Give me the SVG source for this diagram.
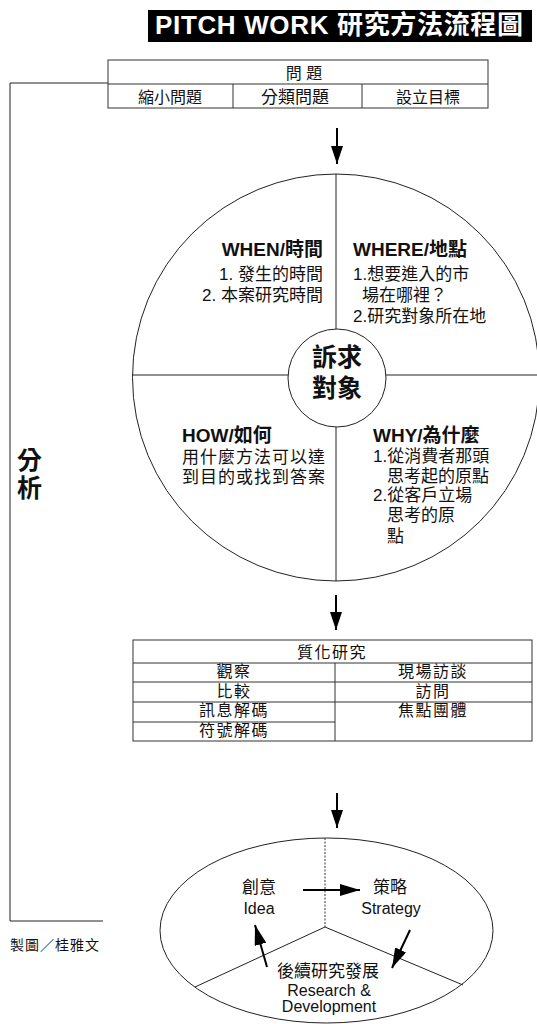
<svg xmlns="http://www.w3.org/2000/svg" width="537" height="1024" viewBox="0 0 537 1024">
<style>
text{font-family:"Liberation Sans","Noto Sans CJK TC",sans-serif;fill:#111}
.t16{font-size:16px}
.t17{font-size:17px}
.tc{font-size:16px;letter-spacing:1.5px}
.h{font-size:19px;font-weight:bold}
.ln{stroke:#222;stroke-width:1;fill:none}
.tb{stroke:#333;stroke-width:1;fill:none}
.arr{stroke:#000;stroke-width:2;fill:none}
.mid{text-anchor:middle}
</style>
<defs>
<marker id="ah" viewBox="0 0 18 12" refX="18" refY="6" markerWidth="18" markerHeight="12" markerUnits="userSpaceOnUse" orient="auto">
<path d="M0,0 L18,6 L0,12 Z" fill="#000"/>
</marker>
<marker id="ah2" viewBox="0 0 20 12" refX="20" refY="6" markerWidth="20" markerHeight="12" markerUnits="userSpaceOnUse" orient="auto">
<path d="M0,0 L20,6 L0,12 Z" fill="#000"/>
</marker>
</defs>

<g id="title">
<rect x="148" y="10" width="384" height="32" fill="#000"/>
<text x="155" y="34" style="font-size:26px;font-weight:bold;fill:#fff" textLength="368" lengthAdjust="spacing">PITCH WORK 研究方法流程圖</text>
</g>

<g id="bracket">
<path class="ln" d="M108,83 H10 V921 H103"/>
<text x="17" y="469" style="font-size:25px;font-weight:bold">分</text>
<text x="17" y="497" style="font-size:25px;font-weight:bold">析</text>
</g>

<g id="problem">
<rect class="tb" x="108" y="60" width="380" height="48"/>
<line class="tb" x1="108" y1="84" x2="488" y2="84"/>
<line class="tb" x1="233" y1="84" x2="233" y2="108"/>
<line class="tb" x1="362" y1="84" x2="362" y2="108"/>
<text class="t16 mid" x="304" y="79">問 題</text>
<text class="t16 mid" x="170" y="103">縮小問題</text>
<text class="t17 mid" x="295" y="103">分類問題</text>
<text class="t16 mid" x="428" y="103">設立目標</text>
</g>

<g id="connectors">
<line class="arr" x1="337" y1="128" x2="337" y2="164" marker-end="url(#ah)"/>
<line class="arr" x1="336" y1="595" x2="336" y2="630" marker-end="url(#ah)"/>
<line class="arr" x1="337" y1="793" x2="337" y2="828" marker-end="url(#ah)"/>
</g>

<g id="circle">
<circle class="ln" cx="336" cy="377.5" r="203.5"/>
<line class="ln" x1="336" y1="174" x2="336" y2="581"/>
<line class="ln" x1="132" y1="375" x2="537" y2="375"/>
<circle cx="337" cy="378" r="49" fill="#fff" stroke="#222" stroke-width="1"/>
<text class="mid" x="337" y="366" style="font-size:25px;font-weight:bold">訴求</text>
<text class="mid" x="337" y="397" style="font-size:25px;font-weight:bold">對象</text>
</g>

<g id="when">
<text class="h" x="323" y="256" text-anchor="end">WHEN/時間</text>
<text class="t17" x="323" y="280" text-anchor="end">1. 發生的時間</text>
<text class="t17" x="323" y="301" text-anchor="end">2. 本案研究時間</text>
</g>

<g id="where">
<text class="h" x="353" y="256">WHERE/地點</text>
<text class="t17" x="353" y="280">1.想要進入的市</text>
<text class="t17" x="362" y="301">場在哪裡？</text>
<text class="t17" x="353" y="322">2.研究對象所在地</text>
</g>

<g id="how">
<text class="h" x="182" y="442">HOW/如何</text>
<text class="t17" x="182" y="463" textLength="143">用什麼方法可以達</text>
<text class="t17" x="182" y="483" textLength="143">到目的或找到答案</text>
</g>

<g id="why">
<text class="h" x="373" y="442">WHY/為什麼</text>
<text class="t17" x="373" y="462">1.從消費者那頭</text>
<text class="t17" x="387" y="482">思考起的原點</text>
<text class="t17" x="373" y="501">2.從客戶立場</text>
<text class="t17" x="387" y="521">思考的原</text>
<text class="t17" x="387" y="542">點</text>
</g>

<g id="qualitative">
<rect class="tb" x="133" y="640" width="399" height="101"/>
<line class="tb" x1="133" y1="663" x2="532" y2="663"/>
<line class="tb" x1="335" y1="663" x2="335" y2="741"/>
<line class="tb" x1="133" y1="682" x2="532" y2="682"/>
<line class="tb" x1="133" y1="702" x2="532" y2="702"/>
<line class="tb" x1="133" y1="722" x2="335" y2="722"/>
<text class="tc mid" x="332" y="658">質化研究</text>
<text class="tc mid" x="234" y="677">觀察</text>
<text class="tc mid" x="433" y="677">現場訪談</text>
<text class="tc mid" x="234" y="697">比較</text>
<text class="tc mid" x="433" y="697">訪問</text>
<text class="tc mid" x="234" y="716">訊息解碼</text>
<text class="tc mid" x="433" y="716">焦點團體</text>
<text class="tc mid" x="234" y="736">符號解碼</text>
</g>

<g id="cycle">
<ellipse class="ln" cx="326.5" cy="930.5" rx="166.5" ry="92.5"/>
<line x1="325" y1="838" x2="325" y2="927" stroke="#333" stroke-width="1" stroke-dasharray="2,1.5"/>
<line class="ln" x1="325" y1="927" x2="195" y2="987"/>
<line class="ln" x1="325" y1="927" x2="463" y2="985"/>
</g>

<g id="idea">
<text class="t17 mid" x="259" y="893">創意</text>
<text class="t16 mid" x="259" y="914">Idea</text>
</g>
<g id="strategy">
<text class="t17 mid" x="390" y="893">策略</text>
<text class="t16 mid" x="391" y="914">Strategy</text>
</g>
<g id="rd">
<text class="t17 mid" x="328" y="977">後續研究發展</text>
<text class="t16 mid" x="329" y="996">Research &amp;</text>
<text class="t16 mid" x="329" y="1012">Development</text>
</g>

<g id="cycle-arrows">
<line class="arr" x1="303" y1="890" x2="360" y2="890" marker-end="url(#ah2)"/>
<line class="arr" x1="410" y1="930" x2="392" y2="968" marker-end="url(#ah2)"/>
<line class="arr" x1="267" y1="967" x2="255" y2="925" marker-end="url(#ah2)"/>
</g>

<g id="credit">
<text x="10" y="950" style="font-size:14px;letter-spacing:1px">製圖／桂雅文</text>
</g>
</svg>
